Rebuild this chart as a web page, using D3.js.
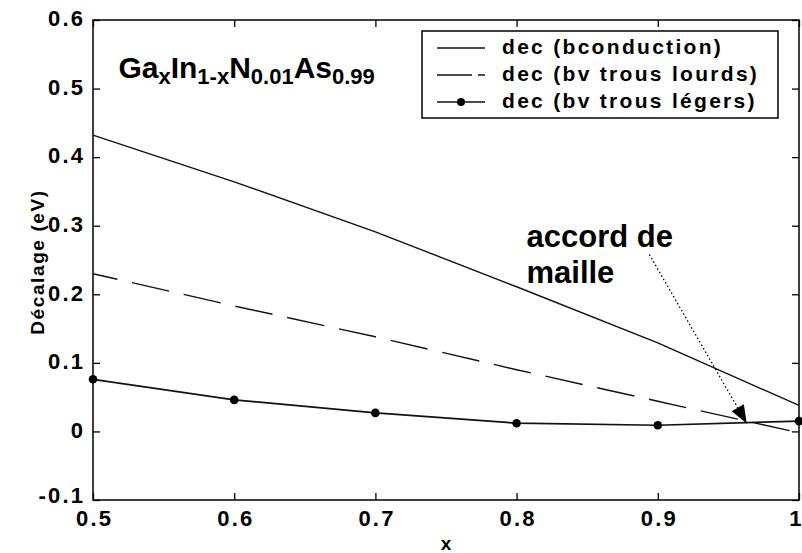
<!DOCTYPE html>
<html>
<head>
<meta charset="utf-8">
<script src="https://cdn.jsdelivr.net/npm/d3@7/dist/d3.min.js"></script>
<style>
  html, body { margin: 0; padding: 0; background: #fff; }
  svg { display: block; }
  text { font-family: "Liberation Sans", Arial, Helvetica, sans-serif; font-weight: bold; fill: #000; }
</style>
</head>
<body>
<svg id="chart" width="802" height="553"></svg>
<script>
// Composition x of GaxIn1-xN0.01As0.99
const xValues = [0.5, 0.6, 0.7, 0.8, 0.9, 1.0];
// Band offsets (eV)
const conduction = [0.432, 0.364, 0.291, 0.211, 0.129, 0.038];
const heavyHoles = [0.230, 0.183, 0.138, 0.090, 0.044, -0.002];
const lightHoles = [0.076, 0.046, 0.027, 0.012, 0.009, 0.015];

const seriesNames = ["dec (bconduction)", "dec (bv trous lourds)", "dec (bv trous légers)"];
const xTicks = [0.5, 0.6, 0.7, 0.8, 0.9, 1.0];
const xTickLabels = ["0.5", "0.6", "0.7", "0.8", "0.9", "1"];
const yTicks = [-0.1, 0, 0.1, 0.2, 0.3, 0.4, 0.5, 0.6];
const yTickLabels = ["-0.1", "0", "0.1", "0.2", "0.3", "0.4", "0.5", "0.6"];

// Annotation anchors in data units
const annotationText = ["accord de", "maille"];
const annotationTextAt = [0.807, 0.269];
const arrowFrom = [0.894, 0.258];
const arrowTo = [0.963, 0.0117];
const titleAt = [0.518, 0.516];

const svg = d3.select("#chart");
const L = 93, R = 799, T = 20, B = 500;

const x = d3.scaleLinear().domain([0.5, 1.0]).range([L, R]);
const y = d3.scaleLinear().domain([-0.1, 0.6]).range([B, T]);

// Plot frame
svg.append("rect")
  .attr("x", L).attr("y", T).attr("width", R - L).attr("height", B - T)
  .attr("fill", "none").attr("stroke", "#000").attr("stroke-width", 1.5);

const tickLen = 7;
const labelSpacing = 2.2;
const labelFont = "'Liberation Sans', Arial, sans-serif";

// Bottom axis (ticks inward) and mirrored top ticks
const xAxisBottom = d3.axisBottom(x).tickValues(xTicks)
  .tickSize(-tickLen).tickPadding(14)
  .tickFormat((d, i) => xTickLabels[i]);
const gxb = svg.append("g").attr("transform", `translate(0,${B})`).call(xAxisBottom);
gxb.select(".domain").remove();
gxb.selectAll(".tick line").attr("stroke", "#000").attr("stroke-width", 1.3);
gxb.selectAll(".tick text")
  .attr("font-size", 22)
  .attr("letter-spacing", d => d === 1 ? 0 : labelSpacing)
  .attr("text-anchor", d => d === 1 ? "end" : "middle")
  .attr("dx", d => d === 1 ? 2 : labelSpacing / 2).attr("y", 20).attr("dy", "0")
  .attr("dominant-baseline", "middle")
  .style("font-family", labelFont).style("font-weight", "bold");

const xAxisTop = d3.axisTop(x).tickValues(xTicks).tickSize(-tickLen).tickFormat("");
const gxt = svg.append("g").attr("transform", `translate(0,${T})`).call(xAxisTop);
gxt.select(".domain").remove();
gxt.selectAll(".tick line").attr("stroke", "#000").attr("stroke-width", 1.3);

// Left axis with labels, mirrored right ticks
const yAxisLeft = d3.axisLeft(y).tickValues(yTicks)
  .tickSize(-tickLen).tickPadding(10)
  .tickFormat((d, i) => yTickLabels[i]);
const gyl = svg.append("g").attr("transform", `translate(${L},0)`).call(yAxisLeft);
gyl.select(".domain").remove();
gyl.selectAll(".tick line").attr("stroke", "#000").attr("stroke-width", 1.3);
gyl.selectAll(".tick text")
  .attr("font-size", 22).attr("letter-spacing", labelSpacing)
  .attr("x", -10 + labelSpacing).attr("dy", d => d < -0.05 ? "-3" : "0")
  .attr("dominant-baseline", "middle")
  .style("font-family", labelFont).style("font-weight", "bold");

const yAxisRight = d3.axisRight(y).tickValues(yTicks).tickSize(-tickLen).tickFormat("");
const gyr = svg.append("g").attr("transform", `translate(${R},0)`).call(yAxisRight);
gyr.select(".domain").remove();
gyr.selectAll(".tick line").attr("stroke", "#000").attr("stroke-width", 1.3);

// Axis titles
svg.append("text")
  .attr("x", (L + R) / 2).attr("y", 550)
  .attr("text-anchor", "middle")
  .attr("font-size", 19).text("x");

svg.append("text")
  .attr("transform", `translate(39,${(T + B) / 2 + 2}) rotate(-90)`)
  .attr("text-anchor", "middle").attr("dominant-baseline", "middle")
  .attr("font-size", 19).attr("letter-spacing", 1.6)
  .text("Décalage (eV)");

// Series
const line = d3.line().x((d, i) => x(xValues[i])).y(d => y(d));
const plot = svg.append("g");

plot.append("path").datum(conduction)
  .attr("d", line).attr("fill", "none")
  .attr("stroke", "#111").attr("stroke-width", 1.4);

plot.append("path").datum(heavyHoles)
  .attr("d", line).attr("fill", "none")
  .attr("stroke", "#111").attr("stroke-width", 1.4)
  .attr("stroke-dasharray", "38,15").attr("stroke-dashoffset", 13);

plot.append("path").datum(lightHoles)
  .attr("d", line).attr("fill", "none")
  .attr("stroke", "#111").attr("stroke-width", 1.7);

plot.selectAll("circle.light").data(lightHoles).enter()
  .append("circle").attr("class", "light")
  .attr("cx", (d, i) => x(xValues[i])).attr("cy", d => y(d))
  .attr("r", 4.3).attr("fill", "#000");

// Formula label
const title = svg.append("text")
  .attr("x", x(titleAt[0])).attr("y", y(titleAt[1]))
  .attr("font-size", 30);
const parts = [["Ga", 0], ["x", 1], ["In", 0], ["1-x", 1], ["N", 0], ["0.01", 1], ["As", 0], ["0.99", 1]];
let prevSub = 0;
parts.forEach(([t, sub]) => {
  title.append("tspan")
    .attr("font-size", sub ? 22 : 30)
    .attr("dy", sub === prevSub ? 0 : (sub ? 6 : -6))
    .text(t);
  prevSub = sub;
});

// Legend
const lg = svg.append("g");
lg.append("rect")
  .attr("x", 422).attr("y", 31).attr("width", 356).attr("height", 87)
  .attr("fill", "#fff").attr("stroke", "#000").attr("stroke-width", 1.5);
const rowY = [48, 75, 102];
const styles = [
  { dash: null, marker: false },
  { dash: "35,6", marker: false },
  { dash: null, marker: true }
];
seriesNames.forEach((name, i) => {
  const ly = rowY[i];
  const ln = lg.append("line")
    .attr("x1", 437).attr("x2", 485).attr("y1", ly).attr("y2", ly)
    .attr("stroke", "#111").attr("stroke-width", 1.5);
  if (styles[i].dash) ln.attr("stroke-dasharray", styles[i].dash);
  if (styles[i].marker) lg.append("circle").attr("cx", 461).attr("cy", ly).attr("r", 4).attr("fill", "#000");
  lg.append("text")
    .attr("x", 502).attr("y", ly)
    .attr("dominant-baseline", "middle")
    .attr("font-size", 21).attr("letter-spacing", 2.3)
    .text(name);
});

// Lattice-match annotation
const ann = svg.append("text")
  .attr("x", x(annotationTextAt[0])).attr("y", y(annotationTextAt[1]))
  .attr("font-size", 31);
annotationText.forEach((t, i) => {
  ann.append("tspan")
    .attr("x", x(annotationTextAt[0]))
    .attr("dy", i === 0 ? 0 : 36)
    .text(t);
});

const ax0 = x(arrowFrom[0]), ay0 = y(arrowFrom[1]);
const ax1 = x(arrowTo[0]), ay1 = y(arrowTo[1]);
const ang = Math.atan2(ay1 - ay0, ax1 - ax0);
const headLen = 18, headHalf = 7;
const bx = ax1 - headLen * Math.cos(ang), by = ay1 - headLen * Math.sin(ang);
svg.append("line")
  .attr("x1", ax0).attr("y1", ay0).attr("x2", bx).attr("y2", by)
  .attr("stroke", "#000").attr("stroke-width", 1.3)
  .attr("stroke-dasharray", "1.5,2.5");
svg.append("path")
  .attr("d", `M${ax1},${ay1} L${bx + headHalf * Math.sin(ang)},${by - headHalf * Math.cos(ang)} L${bx - headHalf * Math.sin(ang)},${by + headHalf * Math.cos(ang)} Z`)
  .attr("fill", "#000");
</script>
</body>
</html>
